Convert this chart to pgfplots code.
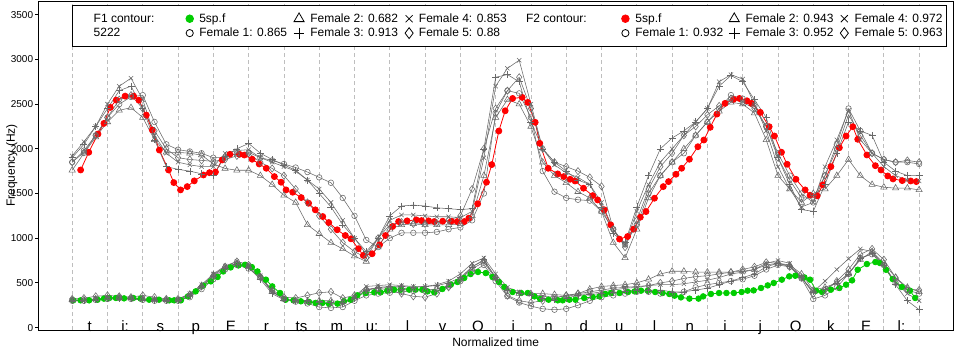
\documentclass[border=0pt]{standalone}
\usepackage{pgfplots}
\pgfplotsset{compat=1.18}
\usepackage{pgfplotstable}
\usepackage{fontspec}
\setmainfont{Liberation Sans}
\usetikzlibrary{calc}
\definecolor{rgreen}{RGB}{0,205,0}
\definecolor{gline}{RGB}{105,105,105}
\definecolor{ggrid}{RGB}{190,190,190}

\pgfplotstableread{
u C1 T1 P1 X1 D1 C2 T2 P2 X2 D2
0 300 310 300 310 320 1850 1760 1900 1920 1850
0.333 300 310 300 300 330 1980 1950 2050 2080 1960
0.667 310 320 310 320 350 2150 2130 2250 2250 2150
1 320 330 320 330 360 2350 2300 2450 2500 2350
1.333 330 340 320 340 350 2500 2430 2650 2700 2550
1.667 320 330 320 330 340 2580 2460 2700 2790 2600
2 310 320 310 320 360 2600 2350 2450 2550 2450
2.333 300 310 300 310 340 2300 2100 2100 2150 2200
2.667 300 310 300 310 320 2050 1960 1800 1950 2000
3 300 310 300 320 320 1990 1960 1770 1850 1900
3.333 340 370 360 380 370 1970 1950 1750 1820 1880
3.667 430 470 460 480 460 1950 1930 1720 1800 1870
4 540 590 570 600 580 1900 1830 1700 1800 1860
4.333 650 680 660 690 680 1900 1780 1920 1950 1880
4.667 700 720 710 740 740 1950 1760 2000 1980 1920
5 660 680 670 700 700 1960 1760 2060 1990 1950
5.333 560 560 540 580 570 1900 1700 1950 1900 1850
5.667 410 400 380 400 420 1870 1600 1880 1850 1780
6 320 320 310 320 340 1830 1480 1820 1800 1700
6.333 290 300 300 300 330 1790 1400 1760 1750 1550
6.667 270 290 300 280 360 1740 1150 1650 1650 1400
7 230 300 290 270 390 1680 1050 1500 1550 1250
7.333 220 300 280 260 400 1620 950 1350 1400 1100
7.667 230 290 270 270 330 1450 880 1150 1200 950
8 300 330 330 350 360 1250 800 1000 1000 850
8.333 360 420 420 460 430 980 740 850 820 780
8.667 380 440 450 470 440 900 900 1000 1000 1000
9 390 450 460 480 420 1000 1100 1250 1200 1150
9.333 400 440 460 470 380 1060 1150 1360 1260 1180
9.667 410 430 450 460 350 1060 1160 1370 1260 1160
10 410 420 460 460 340 1060 1150 1360 1250 1160
10.333 430 430 470 480 380 1070 1150 1340 1240 1170
10.667 460 470 500 520 450 1100 1150 1330 1240 1200
11 520 540 560 600 540 1120 1160 1320 1230 1250
11.333 620 660 680 720 680 1200 1250 1330 1300 1550
11.667 700 730 760 780 750 1500 1700 2000 1900 2000
12 520 550 560 600 560 2400 2350 2800 2700 2450
12.333 350 420 420 450 360 2650 2550 2830 2900 2650
12.667 280 380 380 400 300 2620 2500 2750 2990 2800
13 240 380 360 370 280 2350 2250 2300 2500 2450
13.333 210 380 330 350 300 1750 1850 2000 2000 2000
13.667 200 370 310 340 330 1520 1700 1850 1820 1850
14 210 360 330 350 360 1450 1620 1750 1730 1800
14.333 250 380 360 370 380 1430 1520 1650 1680 1750
14.667 300 430 370 380 400 1420 1450 1600 1600 1680
15 340 460 380 400 420 1300 1300 1350 1400 1580
15.333 360 470 390 420 440 1100 950 1050 1100 1100
15.667 380 480 410 440 450 930 780 950 920 900
16 400 500 420 450 460 1150 1100 1350 1300 1200
16.333 400 540 420 470 470 1500 1450 1700 1600 1550
16.667 380 600 420 480 500 1700 1700 2000 1850 1800
17 380 630 400 480 520 1850 1850 2120 2000 1950
17.333 400 630 400 490 550 1950 2000 2200 2150 2150
17.667 450 620 420 510 570 2150 2150 2300 2300 2250
18 480 620 440 530 580 2300 2300 2450 2450 2380
18.333 500 620 480 560 600 2450 2420 2700 2750 2480
18.667 520 620 520 600 620 2600 2520 2820 2830 2560
19 540 630 560 620 650 2560 2500 2750 2780 2520
19.333 580 650 600 650 680 2480 2400 2550 2500 2450
19.667 650 700 680 720 730 2250 2100 2350 2200 2250
20 700 720 720 750 720 1950 1700 1900 1800 1900
20.333 680 700 690 720 680 1700 1550 1600 1550 1650
20.667 550 600 560 560 560 1500 1400 1320 1350 1450
21 320 420 400 400 380 1400 1500 1300 1400 1450
21.333 360 450 430 520 420 1700 1550 1600 1800 1700
21.667 450 500 500 650 520 2050 1700 1950 2100 2000
22 600 600 600 770 650 2450 1880 2300 2430 2380
22.333 780 760 770 880 820 2200 1700 2200 2100 2150
22.667 820 850 830 850 880 1950 1600 2150 1950 1950
23 700 720 700 700 760 1880 1570 1850 1800 1880
23.333 500 560 480 500 560 1850 1560 1750 1700 1850
23.667 420 450 300 380 430 1850 1560 1700 1650 1870
24 380 400 200 300 420 1830 1540 1700 1640 1850
}\graydata

\begin{document}
\begin{tikzpicture}
\begin{axis}[
  scale only axis, width=914.7pt, height=329pt,
  xmin=-0.96, xmax=24.96, ymin=-27, ymax=3653,
  axis line style={line width=0.8pt},
  ytick={0,500,...,3500}, ytick pos=left,
  tick align=outside, major tick length=3pt,
  y tick style={line width=0.8pt, black},
  /pgf/number format/assume math mode=true,
  /pgf/number format/1000 sep={},
  yticklabel style={font=\fontsize{10}{12}\selectfont, inner sep=0pt, xshift=-2pt},
  xtick={0.5,1.5,...,23.5},
  xticklabels={t,i:,s,p,E,r,ts,m,u:,l,v,O,i,n,d,u,l,n,i,j,O,k,E,l:},
  xticklabel style={font=\fontsize{15}{18}\selectfont, anchor=base, yshift=2pt},
  x tick style={draw=none},
  minor xtick={0,1,...,24},
  xminorgrids,
  minor grid style={ggrid, dash pattern=on 4pt off 3pt, line width=0.8pt},
  xlabel={Normalized time},
  ylabel={Frequency (Hz)},
  every axis x label/.style={at={(axis description cs:0.5,-0.0508)}, anchor=base, font=\fontsize{12}{14}\selectfont},
  every axis y label/.style={at={(axis description cs:-0.0255,0.5)}, rotate=90, anchor=base, font=\fontsize{12}{14}\selectfont},
  legend columns=8,
  legend cell align=left,
  legend image code/.code={\draw[#1] plot coordinates {(0pt,0pt)};},
  legend style={
    at={(axis description cs:0.0372,0.9878)}, anchor=north west,
    draw=black, line width=0.8pt, fill=white,
    font=\fontsize{12}{14}\selectfont,
    inner xsep=3.5pt, inner ysep=7.25pt,
    row sep=2.3pt, column sep=0pt,
    nodes={inner sep=0pt, text height=9.6pt, text depth=2.5pt},
    /tikz/column 1/.style={column sep=17.5pt},
    /tikz/column 2/.style={column sep=31.5pt},
    /tikz/column 3/.style={column sep=5.8pt},
    /tikz/column 4/.style={column sep=6.5pt},
    /tikz/column 5/.style={column sep=5.8pt},
    /tikz/column 6/.style={column sep=7pt},
    /tikz/column 7/.style={column sep=5.8pt},
    /tikz/column 8/.style={column sep=19.3pt},
    /tikz/column 9/.style={column sep=0pt},
    /tikz/column 10/.style={column sep=34.8pt},
    /tikz/column 11/.style={column sep=6.2pt},
    /tikz/column 12/.style={column sep=5.6pt},
    /tikz/column 13/.style={column sep=6pt},
    /tikz/column 14/.style={column sep=6.8pt},
    /tikz/column 15/.style={column sep=6.3pt},
  },
  gray plot/.style={gline, line width=0.55pt, mark options={solid, draw=gline, fill=none, line width=0.55pt}, forget plot},
  leg mark/.style={only marks, black, mark options={solid, draw=black, fill=none, line width=0.7pt}},
]

% legend entries
\addlegendimage{empty legend}\addlegendentry{F1 contour:}
\addlegendimage{only marks, mark=*, mark options={draw=rgreen, fill=rgreen, scale=1.9}}\addlegendentry{5sp.f}
\addlegendimage{leg mark, mark=triangle, mark options={scale=2.9}}\addlegendentry{Female 2: 0.682}
\addlegendimage{leg mark, mark=x, mark options={scale=2.5}}\addlegendentry{Female 4: 0.853}
\addlegendimage{empty legend}\addlegendentry{F2 contour:}
\addlegendimage{only marks, mark=*, mark options={draw=red, fill=red, scale=1.9}}\addlegendentry{5sp.f}
\addlegendimage{leg mark, mark=triangle, mark options={scale=2.9}}\addlegendentry{Female 2: 0.943}
\addlegendimage{leg mark, mark=x, mark options={scale=2.5}}\addlegendentry{Female 4: 0.972}
\addlegendimage{empty legend}\addlegendentry{5222}
\addlegendimage{leg mark, mark=o, mark options={scale=1.8}}\addlegendentry{Female 1: 0.865}
\addlegendimage{leg mark, mark=+, mark options={scale=2.7}}\addlegendentry{Female 3: 0.913}
\addlegendimage{leg mark, mark=diamond, mark options={scale=2.7}}\addlegendentry{Female 5: 0.88}
\addlegendimage{empty legend}\addlegendentry{}
\addlegendimage{leg mark, mark=o, mark options={scale=1.8}}\addlegendentry{Female 1: 0.932}
\addlegendimage{leg mark, mark=+, mark options={scale=2.7}}\addlegendentry{Female 3: 0.952}
\addlegendimage{leg mark, mark=diamond, mark options={scale=2.7}}\addlegendentry{Female 5: 0.963}

% F1 5sp.f (green)
\addplot[rgreen, line width=0.8pt, mark=*, mark size=2.8pt, mark options={draw=rgreen, fill=rgreen}, forget plot] coordinates {
(0.03,305)(0.24,305)(0.48,305)(0.72,312)(0.90,324)(1.05,331)(1.24,331)(1.47,327)(1.73,331)(1.94,324)
(2.18,312)(2.46,312)(2.75,305)(2.89,305)(3.08,305)(3.28,349)(3.50,405)(3.71,469)(3.93,517)(4.12,566)
(4.28,628)(4.49,673)(4.71,695)(4.90,703)(5.09,677)(5.25,628)(5.49,536)(5.67,461)(5.89,387)(6.05,312)
(6.27,305)(6.48,294)(6.71,287)(6.90,276)(7.09,276)(7.28,264)(7.52,268)(7.70,294)(7.89,312)(8.08,361)
(8.32,387)(8.56,394)(8.74,394)(8.93,413)(9.12,424)(9.31,424)(9.55,424)(9.73,424)(9.92,424)(10.07,405)
(10.26,394)(10.49,432)(10.73,480)(10.92,510)(11.11,555)(11.29,599)(11.50,622)(11.72,610)(11.91,566)(12.09,510)
(12.25,454)(12.48,398)(12.72,387)(12.91,387)(13.10,349)(13.26,320)(13.50,312)(13.76,305)(13.90,305)(14.09,312)
(14.26,312)(14.51,331)(14.75,342)(14.94,349)(15.11,376)(15.27,387)(15.51,387)(15.75,398)(15.94,405)(16.12,413)
(16.31,413)(16.52,398)(16.73,387)(16.92,376)(17.07,357)(17.25,338)(17.49,324)(17.75,324)(17.88,349)(18.10,376)
(18.33,387)(18.54,387)(18.75,387)(18.97,398)(19.14,413)(19.31,416)(19.52,443)(19.71,472)(19.88,499)(20.11,536)
(20.32,573)(20.49,580)(20.75,561)(20.91,536)(21.08,413)(21.25,398)(21.50,424)(21.74,443)(21.93,480)(22.10,528)
(22.26,647)(22.52,711)(22.76,733)(22.89,722)(23.06,647)(23.25,543)(23.51,454)(23.74,413)(23.89,331)
};

% F2 5sp.f (red)
\addplot[red, line width=0.8pt, mark=*, mark size=3pt, mark options={draw=red, fill=red}, forget plot] coordinates {
(0.24,1763)(0.47,1961)(0.73,2165)(0.90,2284)(1.08,2463)(1.25,2544)(1.50,2589)(1.74,2589)(1.89,2544)(2.10,2377)
(2.27,2210)(2.47,1986)(2.73,1763)(2.88,1622)(3.07,1540)(3.26,1577)(3.46,1641)(3.72,1707)(3.89,1733)(4.06,1740)
(4.25,1875)(4.47,1938)(4.74,1938)(4.88,1930)(5.10,1883)(5.30,1830)(5.50,1782)(5.73,1689)(5.92,1626)(6.06,1540)
(6.25,1514)(6.49,1454)(6.70,1391)(6.89,1317)(7.10,1242)(7.27,1175)(7.51,1094)(7.74,1030)(7.90,993)(8.11,882)
(8.25,807)(8.50,826)(8.71,926)(8.88,1030)(9.08,1131)(9.25,1186)(9.49,1194)(9.75,1205)(9.90,1197)(10.10,1194)
(10.26,1186)(10.50,1190)(10.74,1190)(10.91,1186)(11.11,1186)(11.24,1224)(11.49,1384)(11.74,1626)(11.89,1823)(12.09,2199)
(12.27,2425)(12.48,2563)(12.75,2575)(12.91,2519)(13.12,2296)(13.25,2061)(13.49,1782)(13.76,1719)(13.93,1689)(14.11,1659)
(14.25,1640)(14.49,1559)(14.75,1476)(14.89,1428)(15.08,1317)(15.26,1149)(15.51,990)(15.74,1019)(15.91,1101)(16.10,1235)
(16.26,1298)(16.50,1447)(16.75,1577)(16.90,1633)(17.11,1715)(17.27,1782)(17.49,1883)(17.73,2023)(17.90,2098)(18.08,2240)
(18.27,2388)(18.50,2508)(18.74,2552)(18.91,2563)(19.12,2537)(19.25,2508)(19.50,2407)(19.75,2247)(19.90,2143)(20.10,1961)
(20.26,1827)(20.51,1659)(20.77,1540)(20.91,1481)(21.11,1473)(21.27,1596)(21.50,1800)(21.74,2012)(21.93,2143)(22.12,2247)
(22.26,2106)(22.52,1931)(22.76,1811)(22.92,1763)(23.11,1696)(23.26,1663)(23.52,1644)(23.76,1640)(23.92,1633)
};

% female speakers, F1
\addplot[gray plot, mark=o, mark size=2.8pt] table[x=u, y=C1] {\graydata};
\addplot[gray plot, mark=triangle, mark size=3.6pt] table[x=u, y=T1] {\graydata};
\addplot[gray plot, mark=+, mark size=3.5pt] table[x=u, y=P1] {\graydata};
\addplot[gray plot, mark=x, mark size=3pt] table[x=u, y=X1] {\graydata};
\addplot[gray plot, mark=diamond, mark size=3.6pt] table[x=u, y=D1] {\graydata};
% female speakers, F2
\addplot[gray plot, mark=o, mark size=2.8pt] table[x=u, y=C2] {\graydata};
\addplot[gray plot, mark=triangle, mark size=3.6pt] table[x=u, y=T2] {\graydata};
\addplot[gray plot, mark=+, mark size=3.5pt] table[x=u, y=P2] {\graydata};
\addplot[gray plot, mark=x, mark size=3pt] table[x=u, y=X2] {\graydata};
\addplot[gray plot, mark=diamond, mark size=3.6pt] table[x=u, y=D2] {\graydata};
\end{axis}
\pgfresetboundingbox
\path ($(current axis.south west)+(-38.3pt,-22pt)$) rectangle ($(current axis.north east)+(7pt,1pt)$);
\end{tikzpicture}
\end{document}
